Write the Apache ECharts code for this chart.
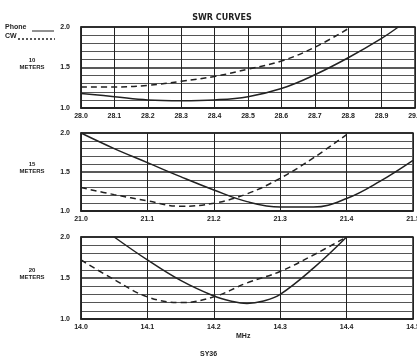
<!DOCTYPE html>
<html>
<head>
<meta charset="utf-8">
<script src="https://cdn.jsdelivr.net/npm/echarts@6/dist/echarts.min.js"></script>
<style>
  html, body { margin: 0; padding: 0; background: #fff; }
  #main { width: 417px; height: 361px; }
</style>
</head>
<body>
<div id="main"></div>
<script>
// 10 meters
var m10PhoneFreq = [28.0, 28.1, 28.2, 28.3, 28.4, 28.5, 28.6, 28.7, 28.8, 28.9, 28.95];
var m10Phone = [1.18, 1.14, 1.10, 1.09, 1.10, 1.14, 1.24, 1.41, 1.62, 1.86, 2.0];
var m10CwFreq = [28.0, 28.1, 28.2, 28.3, 28.4, 28.5, 28.6, 28.7, 28.8];
var m10Cw = [1.26, 1.26, 1.28, 1.33, 1.39, 1.48, 1.58, 1.75, 1.98];
// 15 meters
var m15PhoneFreq = [21.0, 21.05, 21.1, 21.15, 21.2, 21.25, 21.3, 21.35, 21.4, 21.45, 21.5];
var m15Phone = [2.0, 1.80, 1.62, 1.44, 1.27, 1.12, 1.05, 1.05, 1.16, 1.38, 1.65];
var m15CwFreq = [21.0, 21.05, 21.1, 21.15, 21.2, 21.25, 21.3, 21.35, 21.4];
var m15Cw = [1.30, 1.21, 1.13, 1.06, 1.10, 1.22, 1.42, 1.68, 1.98];
// 20 meters
var m20PhoneFreq = [14.05, 14.1, 14.15, 14.2, 14.225, 14.25, 14.275, 14.3, 14.35, 14.4];
var m20Phone = [2.0, 1.72, 1.47, 1.28, 1.22, 1.19, 1.22, 1.30, 1.62, 2.0];
var m20CwFreq = [14.0, 14.05, 14.1, 14.15, 14.2, 14.25, 14.3, 14.35, 14.4];
var m20Cw = [1.72, 1.48, 1.27, 1.20, 1.27, 1.44, 1.58, 1.78, 2.0];

var ranges = [[28.0, 29.0], [21.0, 21.5], [14.0, 14.5]];
var bands = ['10', '15', '20'];
var ink = '#222';
var font = 'Liberation Sans';

function pairs(xs, ys) {
  return xs.map(function (x, i) { return [x, ys[i]]; });
}

var grids = [
  { left: 81, top: 27, width: 334, height: 81 },
  { left: 81, top: 133, width: 332, height: 78 },
  { left: 81, top: 237, width: 332, height: 82 }
].map(function (g) {
  return Object.assign({
    show: true, borderColor: ink, borderWidth: 1.5, backgroundColor: '#fff',
    outerBoundsMode: 'none'
  }, g);
});

var xAxes = ranges.map(function (r, i) {
  return {
    type: 'value', gridIndex: i, min: r[0], max: r[1], interval: 0.1,
    axisLine: { lineStyle: { color: ink, width: 1.5 } },
    axisTick: { show: false },
    axisLabel: {
      color: ink, fontSize: 7, fontWeight: 'bold', fontFamily: font, margin: 5,
      formatter: function (v) { return v.toFixed(1); }
    },
    splitLine: { show: true, lineStyle: { color: ink, width: 1 } }
  };
});

var yAxes = ranges.map(function (r, i) {
  return {
    type: 'value', gridIndex: i, min: 1, max: 2, interval: 0.5,
    axisLine: { show: true, lineStyle: { color: ink, width: 1.5 } },
    axisTick: { show: false },
    axisLabel: {
      color: ink, fontSize: 7, fontWeight: 'bold', fontFamily: font, margin: 11,
      formatter: function (v) { return v.toFixed(1); }
    },
    splitLine: { show: true, lineStyle: { color: ink, width: 1.5 } },
    minorTick: { show: false, splitNumber: 5 },
    minorSplitLine: { show: true, lineStyle: { color: '#555', width: 1 } }
  };
});

function curve(name, idx, xs, ys) {
  return {
    name: name, type: 'line', xAxisIndex: idx, yAxisIndex: idx,
    data: pairs(xs, ys), smooth: 0.4, symbol: 'none',
    lineStyle: { color: ink, width: 1.5, type: name === 'CW' ? [6, 4] : 'solid' },
    z: 5
  };
}

var series = [
  curve('Phone', 0, m10PhoneFreq, m10Phone),
  curve('CW', 0, m10CwFreq, m10Cw),
  curve('Phone', 1, m15PhoneFreq, m15Phone),
  curve('CW', 1, m15CwFreq, m15Cw),
  curve('Phone', 2, m20PhoneFreq, m20Phone),
  curve('CW', 2, m20CwFreq, m20Cw)
];

var bandLabels = bands.map(function (b, i) {
  return {
    type: 'text', x: 32, y: grids[i].top + grids[i].height / 2 - 11,
    style: {
      text: b + '\nMETERS', fill: ink, font: 'bold 6px "' + font + '"',
      align: 'center', lineHeight: 7
    }
  };
});

// hand-drawn key in the top-left corner, as in the original sheet
var key = [
  { type: 'text', x: 5, y: 24, style: { text: 'Phone', fill: ink, font: 'bold 7px "' + font + '"' } },
  { type: 'line', shape: { x1: 32, y1: 31, x2: 54, y2: 31 }, style: { stroke: ink, lineWidth: 1 } },
  { type: 'text', x: 5, y: 33, style: { text: 'CW', fill: ink, font: 'bold 7px "' + font + '"' } },
  { type: 'line', shape: { x1: 18, y1: 39, x2: 55, y2: 39 }, style: { stroke: ink, lineWidth: 1.5, lineDash: [2, 2] } }
];

var option = {
  backgroundColor: '#fff',
  animation: false,
  title: {
    text: 'SWR CURVES', left: 217, top: 9, textAlign: 'center',
    textStyle: { color: ink, fontSize: 8, fontWeight: 'bold', fontFamily: 'DejaVu Sans' }
  },
  grid: grids,
  xAxis: xAxes,
  yAxis: yAxes,
  series: series,
  graphic: bandLabels.concat(key, [
    { type: 'text', x: 236, y: 333, style: { text: 'MHz', fill: ink, font: 'bold 7px "' + font + '"' } },
    { type: 'text', x: 200, y: 351, style: { text: 'SY36', fill: ink, font: 'bold 7px "' + font + '"' } }
  ])
};

var myChart = echarts.init(document.getElementById('main'));
myChart.setOption(option);
</script>
</body>
</html>
